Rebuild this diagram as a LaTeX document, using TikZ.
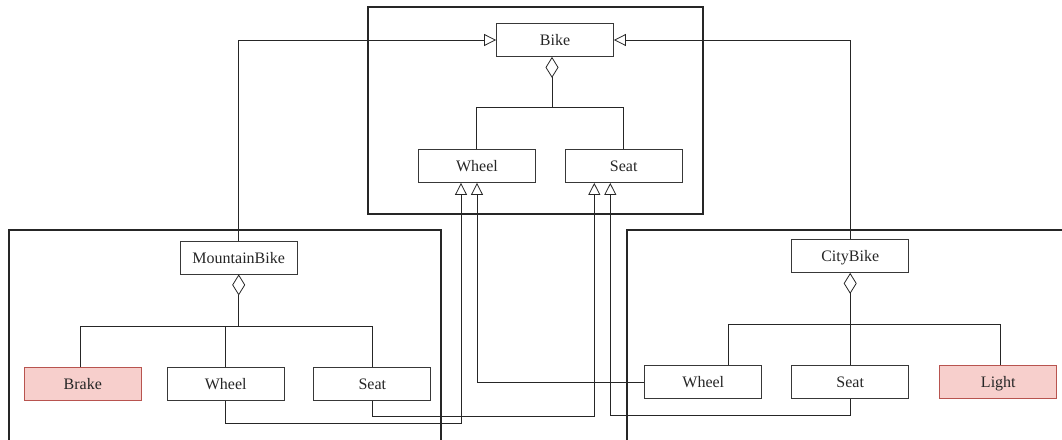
\documentclass[tikz,border=0pt]{standalone}
\usepackage{fontspec}
\setmainfont{Liberation Serif}
\usepackage{xcolor}
\definecolor{addbg}{rgb}{0.97,0.81,0.80}
\definecolor{addbd}{rgb}{0.72,0.33,0.31}
\definecolor{boxbd}{rgb}{0.22,0.22,0.22}
\definecolor{txt}{rgb}{0.15,0.15,0.15}
\usetikzlibrary{arrows.meta}

\begin{document}
\begin{tikzpicture}[
  x=1pt, y=-1pt,
  cls/.style={draw=boxbd, line width=0.8pt, minimum width=117pt, minimum height=33pt,
              inner sep=0pt, text height=11.5pt, text depth=0pt, text=txt,
              font=\fontsize{16}{19}\selectfont},
  extra/.style={fill=addbg, draw=addbd},
  frame/.style={draw=black!85, line width=2pt},
  inh/.style={-{Triangle[open, length=12pt, width=12pt]}, line width=0.8pt, draw=black!85},
  agg/.style={{Diamond[open, length=21pt, width=13pt]}-, line width=0.8pt, draw=black!85},
  tree/.style={line width=0.8pt, draw=black!85},
]
\clip (0,0) rectangle (1062,439);

% Frames
\draw[frame] (368,7) rectangle (703,214);
\draw[frame] (9,450) |- (441,230) -- (441,450);
\draw[frame] (627,450) |- (1075,230);

% Bike package
\node[cls] (bike) at (555,40) {Bike};
\node[cls] (bwheel) at (477,166) {Wheel};
\node[cls] (bseat) at (623.7,166) {Seat};

% MountainBike package
\node[cls] (mbike) at (238.7,257.5) {MountainBike};
\node[cls, extra] (brake) at (82.8,383.7) {Brake};
\node[cls] (mwheel) at (225.7,383.7) {Wheel};
\node[cls] (mseat) at (372.3,383.7) {Seat};

% CityBike package
\node[cls] (cbike) at (850.2,256) {CityBike};
\node[cls] (cwheel) at (703.3,382) {Wheel};
\node[cls] (cseat) at (850.2,382) {Seat};
\node[cls, extra] (light) at (998.3,382) {Light};

% Aggregations
\draw[agg] ([xshift=-3]bike.south) -- ++(0,50.7) coordinate (bj);
\draw[tree] (bj) -| ([xshift=-1]bwheel.north);
\draw[tree] (bj) -| (bseat.north);

\draw[agg] (mbike.south) -- ++(0,51.7) coordinate (mj);
\draw[tree] (mj) -| ([xshift=-2.8]brake.north);
\draw[tree] (mj) -| (mwheel.north);
\draw[tree] (mj) -| (mseat.north);

\draw[agg] (cbike.south) -- ++(0,51.3) coordinate (cj);
\draw[tree] (cj) -| ([xshift=25]cwheel.north);
\draw[tree] (cj) -- (cseat.north);
\draw[tree] (cj) -| ([xshift=1.7]light.north);

% Inheritance
\draw[inh] (mbike.north) |- (bike.west);
\draw[inh] (cbike.north) |- (bike.east);
\draw[inh] (mwheel.south) -- ++(0,23) -| ([xshift=-16]bwheel.south);
\draw[inh] (mseat.south) -- ++(0,15.4) -| ([xshift=-29.4]bseat.south);
\draw[inh] (cwheel.west) -| (bwheel.south);
\draw[inh] (cseat.south) -- ++(0,16.7) -| ([xshift=-13.4]bseat.south);
\end{tikzpicture}
\end{document}
